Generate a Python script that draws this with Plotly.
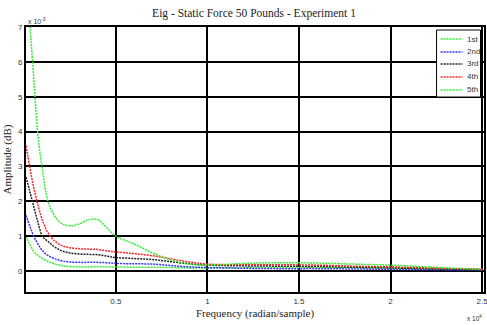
import plotly.graph_objects as go

# Frequency (x 10^4 radian/sample)
freq = [0.01, 0.03, 0.05, 0.075, 0.1, 0.13, 0.17, 0.21, 0.25, 0.3, 0.35, 0.4, 0.45, 0.5,
        0.6, 0.7, 0.8, 0.9, 1.0, 1.2, 1.4, 1.6, 1.8, 2.0, 2.2, 2.4, 2.5]

# Amplitude (x 10^-3)
amp_1st = [1.0, 0.78, 0.58, 0.45, 0.36, 0.28, 0.2, 0.15, 0.13, 0.12, 0.12, 0.13, 0.12, 0.12,
           0.11, 0.11, 0.1, 0.09, 0.09, 0.1, 0.1, 0.1, 0.1, 0.09, 0.07, 0.05, 0.04]
amp_2nd = [1.6, 1.3, 1.03, 0.78, 0.58, 0.45, 0.35, 0.29, 0.26, 0.25, 0.25, 0.25, 0.24, 0.22,
           0.21, 0.2, 0.16, 0.12, 0.1, 0.08, 0.07, 0.07, 0.06, 0.05, 0.04, 0.03, 0.03]
amp_3rd = [2.7, 2.3, 1.9, 1.4, 1.0, 0.85, 0.68, 0.57, 0.52, 0.49, 0.48, 0.47, 0.43, 0.39,
           0.36, 0.33, 0.27, 0.21, 0.17, 0.15, 0.14, 0.13, 0.11, 0.09, 0.07, 0.05, 0.04]
amp_4th = [3.6, 3.0, 2.45, 1.9, 1.45, 1.1, 0.85, 0.72, 0.67, 0.64, 0.63, 0.62, 0.58, 0.55,
           0.5, 0.44, 0.35, 0.26, 0.2, 0.18, 0.18, 0.17, 0.14, 0.12, 0.09, 0.06, 0.05]
amp_5th = [9.0, 7.2, 5.7, 3.9, 2.9, 2.0, 1.55, 1.35, 1.3, 1.35, 1.47, 1.48, 1.25, 1.0,
           0.78, 0.52, 0.32, 0.2, 0.17, 0.22, 0.24, 0.23, 0.2, 0.17, 0.12, 0.07, 0.05]

series_names = ["1st", "2nd", "3rd", "4th", "5th"]
series_values = [amp_1st, amp_2nd, amp_3rd, amp_4th, amp_5th]
series_colors = ["#33ee33", "#3333ff", "#222222", "#ff2222", "#33ee33"]

x_ticks = [0.5, 1, 1.5, 2, 2.5]
x_tick_labels = ["0.5", "1", "1.5", "2", "2.5"]
y_ticks = [0, 1, 2, 3, 4, 5, 6, 7]

W, H = 487, 325
ML, MR, MT, MB = 26, 2.5, 27, 33
PW, PH = W - ML - MR, H - MT - MB

def px2paper_x(px):
    return (px - ML) / PW

def px2paper_y(py):
    return (H - MB - py) / PH

DASH = "2px,1px"

fig = go.Figure()
for name, vals, col in zip(series_names, series_values, series_colors):
    fig.add_trace(go.Scatter(x=freq, y=vals, name=name, mode="lines", showlegend=False,
                             line=dict(color=col, width=1.5, dash=DASH, shape="spline")))

axis_common = dict(showline=True, linecolor="black", linewidth=2, mirror=True,
                   showgrid=True, gridcolor="black", gridwidth=2, zeroline=False,
                   ticks="inside", ticklen=2, tickcolor="black", automargin=False,
                   ticklabeloverflow="allow",
                   tickfont=dict(family="Liberation Sans, Arial", size=8, color="#333"))

fig.update_layout(
    width=W, height=H,
    margin=dict(l=ML, r=MR, t=MT, b=MB, autoexpand=False),
    paper_bgcolor="white", plot_bgcolor="white",
    title=dict(text="Eig - Static Force 50 Pounds - Experiment 1",
               font=dict(family="Liberation Serif, Times New Roman", size=11.5, color="#222"),
               x=254 / W, xanchor="center", y=1 - 13 / H, yanchor="middle"),
    xaxis=dict(range=[0.01, 2.51], tickvals=x_ticks, ticktext=x_tick_labels,
               title=dict(text="Frequency (radian/sample)", standoff=5,
                          font=dict(family="Liberation Serif, Times New Roman", size=11, color="#222")),
               **axis_common),
    yaxis=dict(range=[-0.6, 7], tickvals=y_ticks,
               title=dict(text="Amplitude (dB)", standoff=4,
                          font=dict(family="Liberation Serif, Times New Roman", size=11, color="#222")),
               **axis_common),
    showlegend=False,
)

fig.add_annotation(text="x 10<sup>-3</sup>", xref="paper", yref="paper", x=0.0, y=1.0,
                   xanchor="left", yanchor="bottom", showarrow=False,
                   font=dict(family="Liberation Sans, Arial", size=7, color="#333"))
fig.add_annotation(text="x 10<sup>4</sup>", xref="paper", yref="paper", x=1.0, y=px2paper_y(312),
                   xanchor="right", yanchor="top", showarrow=False,
                   font=dict(family="Liberation Sans, Arial", size=6.5, color="#333"))

# Legend box (drawn like the MATLAB legend)
lx0, lx1, ly0, ly1 = 437, 481, 30, 97
fig.add_shape(type="rect", xref="paper", yref="paper",
              x0=px2paper_x(lx0), x1=px2paper_x(lx1), y0=px2paper_y(ly1), y1=px2paper_y(ly0),
              line=dict(color="black", width=1), fillcolor="white", layer="above")
entry_y = [39, 52, 64, 77, 90]
for name, col, ey in zip(series_names, series_colors, entry_y):
    fig.add_shape(type="line", xref="paper", yref="paper",
                  x0=px2paper_x(441), x1=px2paper_x(463), y0=px2paper_y(ey), y1=px2paper_y(ey),
                  line=dict(color=col, width=1.5, dash=DASH), layer="above")
    fig.add_annotation(text=name, xref="paper", yref="paper", x=px2paper_x(465), y=px2paper_y(ey),
                       xanchor="left", yanchor="middle", showarrow=False,
                       font=dict(family="Liberation Sans Narrow, Liberation Sans, Arial", size=8, color="#333"))

fig.write_html("out.html", config={"displayModeBar": False},
               post_script="document.body.style.margin='0';document.body.style.overflow='hidden';")
